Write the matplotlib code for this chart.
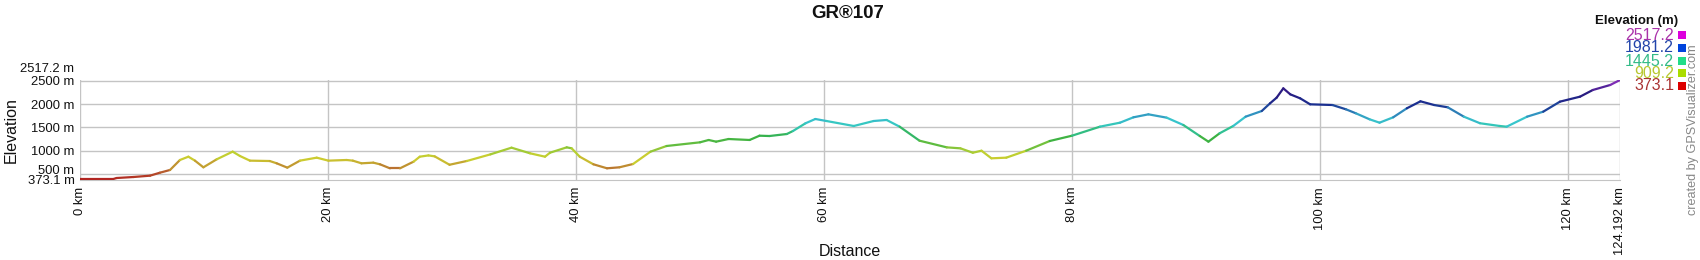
import numpy as np
import matplotlib
matplotlib.use('Agg')
import matplotlib.pyplot as plt
from matplotlib.collections import LineCollection
from matplotlib.colors import LinearSegmentedColormap, Normalize
from matplotlib.transforms import ScaledTranslation
import matplotlib.patches as patches

plt.rcParams['font.family'] = ['Liberation Sans', 'DejaVu Sans']

TITLE = 'GR®107'
MIN_ELEV = 373.1
MAX_ELEV = 2517.2
TOTAL_KM = 124.192

# distance (km) / elevation (m)
distance_km = [
    0.0, 2.69, 2.96, 4.3, 5.65, 6.45, 7.26, 8.06, 8.74, 9.27, 9.95,
    11.02, 12.31, 12.9, 13.7, 15.3, 15.86, 16.72, 17.74, 19.09, 20.03,
    21.5, 22.0, 22.7, 23.65, 24.2, 25.0, 25.8, 26.9, 27.4, 28.1, 28.6, 29.8,
    31.2, 33.1, 34.8, 36.3, 37.5, 37.9, 39.25, 39.65, 40.3, 41.4, 42.5, 43.5,
    44.6, 46.0, 47.3, 50.0, 50.7, 51.3, 52.3, 54.0, 54.8, 55.6, 57.0, 57.5,
    58.5, 59.3, 60.2, 62.4, 64.0, 65.05, 66.1, 67.7, 69.9, 71.0, 72.0, 72.7,
    73.5, 74.7, 76.3, 78.2, 80.0, 82.26, 83.87, 84.95, 86.16, 87.63, 88.98,
    90.3, 91.0, 91.9, 93.0, 94.0, 95.3, 95.97, 96.5, 97.04, 97.6, 98.4, 99.2,
    101.0, 102.1, 102.9, 104.0, 104.8, 105.9, 107.0, 108.1, 109.2, 110.3,
    111.6, 112.9, 114.5, 115.05, 116.7, 118.0, 119.35, 120.97, 122.0, 123.4,
    124.192,
]
elevation_m = [
    395, 395, 416, 437, 466, 530, 588, 802, 873, 788, 645,
    816, 981, 888, 788, 780, 731, 638, 788, 852, 788,
    802, 788, 731, 745, 709, 623, 623, 766, 873, 900, 880, 700,
    781, 923, 1066, 945, 873, 958, 1073, 1052, 873, 710, 624, 645,
    716, 980, 1102, 1181, 1231, 1195, 1252, 1231, 1323, 1316, 1359, 1424,
    1588, 1681, 1638, 1531, 1638, 1660, 1516, 1216, 1073, 1052, 958, 1001,
    838, 852, 1001, 1209, 1323, 1517, 1602, 1717, 1781, 1710, 1552,
    1317, 1195, 1374, 1531, 1731, 1852, 2017, 2138, 2338, 2210, 2124, 1996,
    1981, 1888, 1802, 1674, 1602, 1717, 1910, 2060, 1981, 1932,
    1731, 1590, 1531, 1516, 1731, 1838, 2053, 2160, 2303, 2410,
    2517.2,
]

y_ticks = [373.1, 500, 1000, 1500, 2000, 2500, 2517.2]
y_tick_labels = ['373.1 m', '500 m', '1000 m', '1500 m', '2000 m', '2500 m', '2517.2 m']
x_ticks = [0, 20, 40, 60, 80, 100, 120, 124.192]
x_tick_labels = ['0 km', '20 km', '40 km', '60 km', '80 km', '100 km', '120 km', '124.192 km']

legend_values = ['2517.2', '1981.2', '1445.2', '909.2', '373.1']
legend_text_colors = ['#aa33aa', '#2244aa', '#33bb88', '#b8c830', '#aa3333']
legend_box_colors = ['#dd00dd', '#0044dd', '#22dd88', '#aadd00', '#dd0000']

# line colours by elevation
cmap_stops = [
    (373.1, '#b02020'), (600, '#b86a30'), (820, '#cccc30'), (950, '#bcd030'),
    (1150, '#5cbc40'), (1300, '#36b044'), (1480, '#30c4a4'), (1620, '#38c8cc'),
    (1800, '#3090c0'), (1981, '#1a3090'), (2250, '#2a1a80'), (2517.2, '#9030c0'),
]

W, H = 1700, 260
fig = plt.figure(figsize=(W / 100, H / 100), dpi=100)
ax = fig.add_axes([80 / W, 1 - 180 / H, 1540 / W, 100 / H])

norm = Normalize(MIN_ELEV, MAX_ELEV)
cmap = LinearSegmentedColormap.from_list(
    'elev', [((v - MIN_ELEV) / (MAX_ELEV - MIN_ELEV), c) for v, c in cmap_stops])

x = np.array(distance_km)
y = np.array(elevation_m, dtype=float)
pts = np.column_stack([x, y]).reshape(-1, 1, 2)
segs = np.concatenate([pts[:-1], pts[1:]], axis=1)
lc = LineCollection(segs, colors=cmap(norm((y[:-1] + y[1:]) / 2)), linewidth=1.6,
                    capstyle='round', joinstyle='round', zorder=3)
ax.add_collection(lc)

ax.set_xlim(0, TOTAL_KM)
ax.set_ylim(MIN_ELEV, MAX_ELEV)

grid_color = '#c4c4c4'
for v in [500, 1000, 1500, 2000, 2500]:
    ax.axhline(v, color=grid_color, lw=1, zorder=1)
for v in x_ticks:
    ax.axvline(v, color=grid_color, lw=1, zorder=1)
for side in ['top', 'left', 'right']:
    ax.spines[side].set_visible(False)
ax.spines['bottom'].set_color(grid_color)

ax.set_yticks(y_ticks)
ax.set_yticklabels(y_tick_labels)
ax.set_xticks(x_ticks)
ax.set_xticklabels(x_tick_labels, rotation=90, va='top')
ax.tick_params(length=0, labelsize=9.4, colors='#111111')
ax.tick_params(axis='y', pad=4)
ax.tick_params(axis='x', pad=5)

# the crowded labels are pushed up so they don't sit on top of each other
shift_px = {'2517.2 m': 12, '500 m': 5}
for lab in ax.get_yticklabels():
    dy = shift_px.get(lab.get_text(), 0)
    if dy:
        lab.set_transform(lab.get_transform() + ScaledTranslation(0, dy / 100, fig.dpi_scale_trans))

fig.text(848 / W, 1 - 13 / H, TITLE, ha='center', va='center', fontsize=13.5,
         fontweight='bold', color='#111111')
fig.text(850 / W, 1 - 251 / H, 'Distance', ha='center', va='center', fontsize=11.5,
         color='#111111')
fig.text(11 / W, 1 - 130 / H, 'Elevation', ha='center', va='center', rotation=90,
         fontsize=11.5, color='#111111')
fig.text(1693 / W, 1 - 130 / H, 'created by GPSVisualizer.com', ha='center', va='center',
         rotation=90, fontsize=9.1, color='#888888')

# legend
fig.text(1678 / W, 1 - 21 / H, 'Elevation (m)', ha='right', va='center', fontsize=9.5,
         fontweight='bold', color='#111111')
row_y = [35, 48, 61, 73, 86]
for val, tc, bc, ry in zip(legend_values, legend_text_colors, legend_box_colors, row_y):
    fig.text(1674 / W, 1 - ry / H, val, ha='right', va='center', fontsize=11.5,
             fontweight='medium', color=tc)
    fig.patches.append(patches.Rectangle((1678 / W, 1 - (ry + 4) / H), 8 / W, 8 / H,
                                         transform=fig.transFigure, facecolor=bc,
                                         edgecolor='none'))

fig.savefig('out.png', dpi=100)
